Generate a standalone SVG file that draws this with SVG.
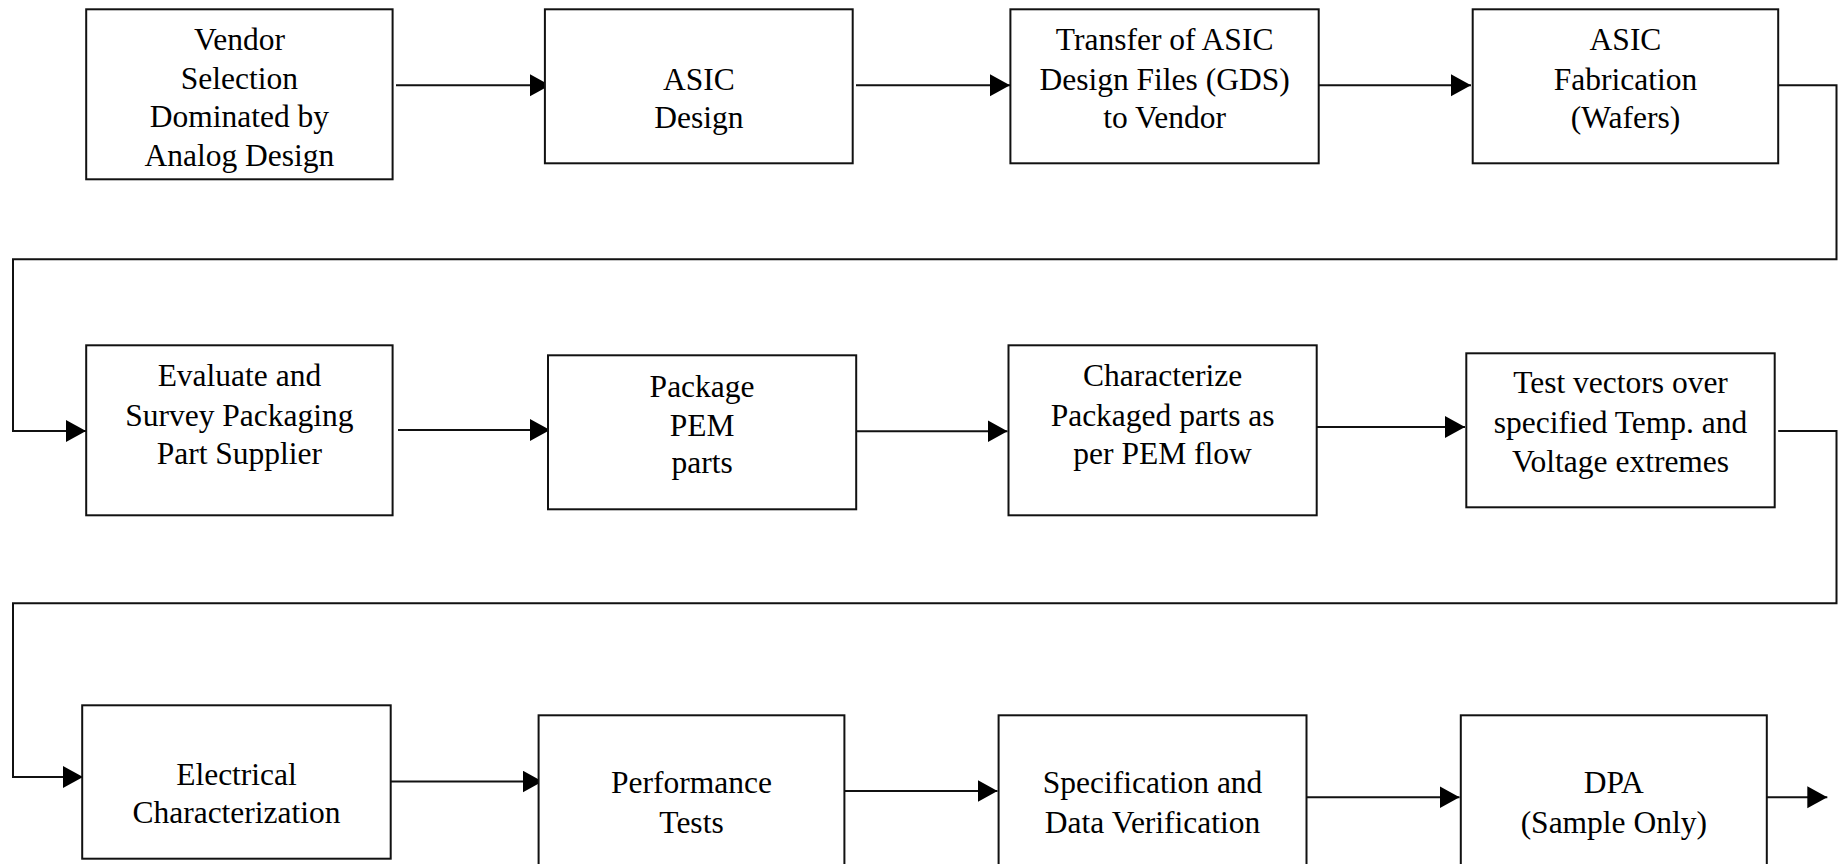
<svg xmlns="http://www.w3.org/2000/svg" width="1839" height="864" viewBox="0 0 1839 864">
  <style>
    .box { fill: #ffffff; stroke: #111111; stroke-width: 2; }
    .lbl { font-family: 'Liberation Serif', 'DejaVu Serif', serif; font-size: 31.5px; fill: #000000; text-anchor: middle; }
    .wire { fill: none; stroke: #111111; stroke-width: 2; }
  </style>
  <defs>
    <marker id="arrow" markerUnits="userSpaceOnUse" markerWidth="22" markerHeight="24" refX="20" refY="11" orient="auto">
      <path d="M0,0 L20,11 L0,22 Z" fill="#000000"/>
    </marker>
  </defs>
  <rect width="1839" height="864" fill="#ffffff"/>

  <!-- flow connectors -->
  <g id="connectors">
    <line class="wire" x1="396" y1="85.3" x2="550" y2="85.3" marker-end="url(#arrow)"/>
    <line class="wire" x1="856" y1="85.3" x2="1010" y2="85.3" marker-end="url(#arrow)"/>
    <line class="wire" x1="1318.7" y1="85.3" x2="1471" y2="85.3" marker-end="url(#arrow)"/>
    <polyline class="wire" points="1778.2,85.3 1836.5,85.3 1836.5,259.3 13,259.3 13,431 86,431" marker-end="url(#arrow)"/>
    <line class="wire" x1="398" y1="430" x2="550" y2="430" marker-end="url(#arrow)"/>
    <line class="wire" x1="852" y1="431.3" x2="1007.5" y2="431.3" marker-end="url(#arrow)"/>
    <line class="wire" x1="1310" y1="427" x2="1465" y2="427" marker-end="url(#arrow)"/>
    <polyline class="wire" points="1778.2,431 1836.5,431 1836.5,603.3 13,603.3 13,777 83,777" marker-end="url(#arrow)"/>
    <line class="wire" x1="390.7" y1="781.5" x2="542.5" y2="781.5" marker-end="url(#arrow)"/>
    <line class="wire" x1="844.4" y1="791" x2="997.5" y2="791" marker-end="url(#arrow)"/>
    <line class="wire" x1="1306.5" y1="797.3" x2="1459.5" y2="797.3" marker-end="url(#arrow)"/>
    <line class="wire" x1="1766.8" y1="797.3" x2="1827.3" y2="797.3" marker-end="url(#arrow)"/>
  </g>

  <!-- row 1 -->
  <g id="vendor-selection">
    <rect class="box" x="86.2" y="9.3" width="306.4" height="170"/>
    <text class="lbl" x="239.4" y="50">Vendor</text>
    <text class="lbl" x="239.4" y="88.6">Selection</text>
    <text class="lbl" x="239.4" y="127.2">Dominated by</text>
    <text class="lbl" x="239.4" y="165.8">Analog Design</text>
  </g>
  <g id="asic-design">
    <rect class="box" x="544.9" y="9.3" width="307.8" height="154"/>
    <text class="lbl" x="698.8" y="90">ASIC</text>
    <text class="lbl" x="698.8" y="128.3">Design</text>
  </g>
  <g id="transfer-gds">
    <rect class="box" x="1010.4" y="9.3" width="308.3" height="154"/>
    <text class="lbl" x="1164.6" y="50">Transfer of ASIC</text>
    <text class="lbl" x="1164.6" y="90">Design Files (GDS)</text>
    <text class="lbl" x="1164.6" y="128.3">to Vendor</text>
  </g>
  <g id="asic-fabrication">
    <rect class="box" x="1472.7" y="9.3" width="305.5" height="154"/>
    <text class="lbl" x="1625.5" y="50">ASIC</text>
    <text class="lbl" x="1625.5" y="90">Fabrication</text>
    <text class="lbl" x="1625.5" y="128.3">(Wafers)</text>
  </g>

  <!-- row 2 -->
  <g id="evaluate-packaging">
    <rect class="box" x="86.2" y="345.3" width="306.4" height="170"/>
    <text class="lbl" x="239.4" y="386">Evaluate and</text>
    <text class="lbl" x="239.4" y="425.7">Survey Packaging</text>
    <text class="lbl" x="239.4" y="464">Part Supplier</text>
  </g>
  <g id="package-pem">
    <rect class="box" x="548" y="355.3" width="308.2" height="154"/>
    <text class="lbl" x="702.1" y="397.3">Package</text>
    <text class="lbl" x="702.1" y="436">PEM</text>
    <text class="lbl" x="702.1" y="472.7">parts</text>
  </g>
  <g id="characterize-packaged">
    <rect class="box" x="1008.5" y="345.3" width="308.2" height="170"/>
    <text class="lbl" x="1162.6" y="386">Characterize</text>
    <text class="lbl" x="1162.6" y="425.7">Packaged parts as</text>
    <text class="lbl" x="1162.6" y="464">per PEM flow</text>
  </g>
  <g id="test-vectors">
    <rect class="box" x="1466.3" y="353.3" width="308.4" height="154"/>
    <text class="lbl" x="1620.5" y="393.3">Test vectors over</text>
    <text class="lbl" x="1620.5" y="433.3">specified Temp. and</text>
    <text class="lbl" x="1620.5" y="471.7">Voltage extremes</text>
  </g>

  <!-- row 3 -->
  <g id="electrical-characterization">
    <rect class="box" x="82.2" y="705.3" width="308.5" height="153.4"/>
    <text class="lbl" x="236.5" y="785">Electrical</text>
    <text class="lbl" x="236.5" y="823.3">Characterization</text>
  </g>
  <g id="performance-tests">
    <rect class="box" x="538.6" y="715.3" width="305.8" height="170"/>
    <text class="lbl" x="691.5" y="792.7">Performance</text>
    <text class="lbl" x="691.5" y="833.3">Tests</text>
  </g>
  <g id="spec-verification">
    <rect class="box" x="998.6" y="715.3" width="307.9" height="170"/>
    <text class="lbl" x="1152.6" y="792.7">Specification and</text>
    <text class="lbl" x="1152.6" y="832.7">Data Verification</text>
  </g>
  <g id="dpa">
    <rect class="box" x="1460.8" y="715.3" width="306" height="170"/>
    <text class="lbl" x="1613.8" y="793.3">DPA</text>
    <text class="lbl" x="1613.8" y="832.7">(Sample Only)</text>
  </g>
</svg>
